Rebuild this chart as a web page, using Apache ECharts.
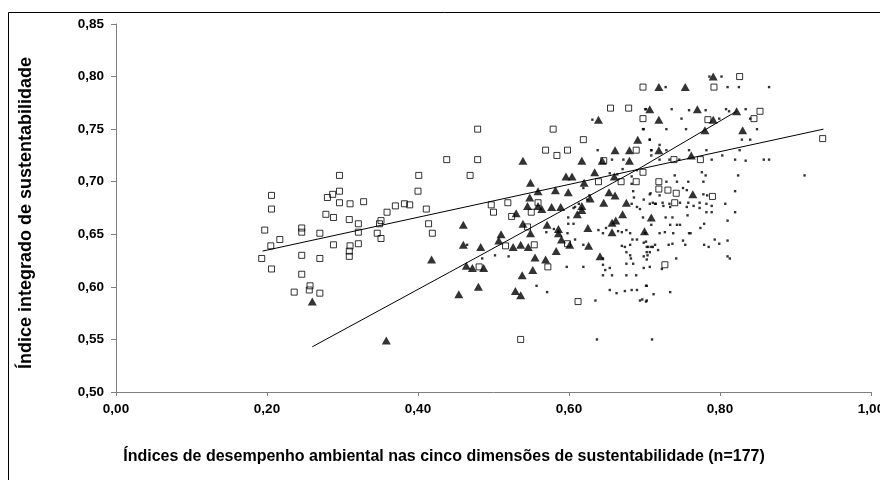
<!DOCTYPE html>
<html>
<head>
<meta charset="utf-8">
<script src="https://cdn.jsdelivr.net/npm/echarts@6/dist/echarts.min.js"></script>
<style>html,body{margin:0;padding:0;background:#fff}#c{width:880px;height:480px}</style>
</head>
<body>
<div id="c"></div>
<script>
const xTicks = [0, 0.2, 0.4, 0.6, 0.8, 1.0];
const yTicks = [0.50, 0.55, 0.60, 0.65, 0.70, 0.75, 0.80, 0.85];
const xTitle = 'Índices de desempenho ambiental nas cinco dimensões de sustentabilidade (n=177)';
const yTitle = 'Índice integrado de sustentabilidade';

const squares = [
[0.296,0.706],[0.206,0.687],[0.287,0.688],[0.280,0.685],[0.296,0.691],[0.206,0.674],[0.296,0.680],[0.310,0.679],[0.328,0.681],[0.278,0.669],
[0.288,0.666],[0.309,0.664],[0.321,0.660],[0.351,0.663],[0.349,0.660],[0.359,0.671],[0.370,0.677],[0.382,0.679],[0.389,0.678],[0.401,0.706],
[0.400,0.691],[0.411,0.674],[0.414,0.660],[0.419,0.651],[0.197,0.654],[0.246,0.656],[0.246,0.652],[0.217,0.645],[0.205,0.639],[0.270,0.651],
[0.321,0.652],[0.346,0.651],[0.351,0.646],[0.288,0.640],[0.310,0.639],[0.309,0.634],[0.309,0.629],[0.321,0.641],[0.193,0.627],[0.246,0.630],
[0.270,0.627],[0.206,0.617],[0.246,0.612],[0.257,0.601],[0.256,0.597],[0.236,0.595],[0.270,0.594],
[0.698,0.790],[0.655,0.770],[0.679,0.770],[0.698,0.760],[0.479,0.750],[0.579,0.750],[0.619,0.740],[0.438,0.721],[0.479,0.721],[0.569,0.730],
[0.584,0.725],[0.598,0.730],[0.689,0.730],[0.646,0.720],[0.469,0.706],[0.639,0.700],[0.669,0.700],[0.689,0.700],[0.698,0.709],[0.719,0.700],
[0.719,0.693],[0.497,0.678],[0.519,0.680],[0.500,0.671],[0.524,0.667],[0.550,0.671],[0.559,0.680],[0.545,0.657],[0.598,0.641],[0.516,0.639],
[0.554,0.640],[0.481,0.619],[0.572,0.619],[0.612,0.586],[0.536,0.550],
[0.826,0.800],[0.792,0.790],[0.784,0.759],[0.853,0.767],[0.845,0.760],[0.936,0.741],[0.739,0.721],[0.774,0.721],[0.731,0.692],[0.742,0.689],
[0.790,0.686],[0.740,0.680],[0.727,0.621]
];

const triangles = [
[0.260,0.586],[0.358,0.549],[0.418,0.626],
[0.719,0.790],[0.707,0.769],[0.719,0.759],[0.639,0.759],[0.691,0.740],[0.719,0.730],[0.661,0.730],[0.680,0.730],[0.680,0.720],[0.617,0.720],
[0.539,0.720],[0.644,0.720],[0.596,0.705],[0.604,0.705],[0.634,0.709],[0.660,0.705],[0.549,0.699],[0.620,0.699],[0.582,0.692],[0.559,0.691],
[0.599,0.690],[0.548,0.685],[0.545,0.677],[0.559,0.677],[0.564,0.674],[0.577,0.676],[0.589,0.676],[0.617,0.677],[0.617,0.673],[0.611,0.669],
[0.628,0.684],[0.646,0.680],[0.653,0.690],[0.661,0.687],[0.676,0.680],[0.671,0.669],[0.657,0.661],[0.662,0.663],[0.657,0.652],[0.625,0.656],
[0.571,0.659],[0.586,0.655],[0.586,0.651],[0.590,0.645],[0.539,0.660],[0.530,0.670],[0.549,0.651],[0.510,0.650],[0.507,0.644],[0.460,0.659],
[0.460,0.640],[0.483,0.638],[0.526,0.638],[0.536,0.640],[0.546,0.638],[0.601,0.640],[0.626,0.639],[0.641,0.629],[0.583,0.634],[0.569,0.626],
[0.555,0.628],[0.464,0.620],[0.472,0.618],[0.487,0.618],[0.552,0.616],[0.538,0.611],[0.480,0.600],[0.454,0.593],[0.529,0.596],[0.536,0.592],
[0.709,0.666],[0.700,0.653],
[0.791,0.800],[0.754,0.790],[0.770,0.769],[0.822,0.767],[0.791,0.759],[0.780,0.749],[0.830,0.749],[0.762,0.725],[0.764,0.688]
];

const dots = [
[0.631,0.759],[0.701,0.769],[0.699,0.750],[0.707,0.740],[0.638,0.730],[0.672,0.721],[0.709,0.730],[0.720,0.735],[0.657,0.721],[0.671,0.712],
[0.690,0.711],[0.654,0.708],[0.664,0.707],[0.683,0.705],[0.683,0.698],[0.685,0.691],[0.686,0.685],[0.683,0.679],[0.690,0.676],[0.694,0.674],
[0.699,0.683],[0.707,0.688],[0.707,0.679],[0.714,0.679],[0.619,0.694],[0.627,0.687],[0.624,0.683],[0.613,0.679],[0.606,0.675],[0.599,0.660],
[0.606,0.660],[0.598,0.651],[0.608,0.645],[0.619,0.640],[0.639,0.654],[0.645,0.651],[0.649,0.656],[0.665,0.653],[0.670,0.652],[0.676,0.654],
[0.681,0.651],[0.684,0.645],[0.690,0.645],[0.699,0.642],[0.703,0.638],[0.711,0.638],[0.681,0.640],[0.670,0.639],[0.674,0.638],[0.676,0.633],
[0.681,0.630],[0.682,0.627],[0.685,0.622],[0.676,0.622],[0.699,0.629],[0.707,0.633],[0.718,0.635],[0.645,0.627],[0.645,0.621],[0.654,0.618],
[0.648,0.616],[0.645,0.611],[0.657,0.611],[0.597,0.619],[0.619,0.619],[0.676,0.611],[0.689,0.611],[0.699,0.618],[0.703,0.626],[0.707,0.619],
[0.690,0.597],[0.683,0.597],[0.674,0.596],[0.663,0.594],[0.654,0.597],[0.703,0.601],[0.697,0.588],[0.703,0.587],[0.557,0.601],[0.571,0.595],
[0.635,0.587],[0.637,0.550],[0.710,0.550],[0.520,0.629],[0.502,0.630],[0.485,0.627],[0.465,0.640],[0.570,0.652],[0.580,0.655],[0.599,0.666],
[0.608,0.676],
[0.786,0.800],[0.802,0.800],[0.728,0.790],[0.810,0.790],[0.825,0.790],[0.865,0.790],[0.702,0.769],[0.736,0.769],[0.759,0.768],[0.808,0.769],
[0.812,0.767],[0.834,0.769],[0.781,0.768],[0.749,0.760],[0.799,0.760],[0.840,0.760],[0.698,0.750],[0.729,0.750],[0.755,0.750],[0.849,0.750],
[0.707,0.740],[0.829,0.740],[0.840,0.740],[0.709,0.730],[0.729,0.730],[0.759,0.730],[0.782,0.730],[0.826,0.730],[0.709,0.725],[0.803,0.725],
[0.720,0.721],[0.733,0.721],[0.746,0.721],[0.789,0.721],[0.820,0.721],[0.834,0.720],[0.858,0.721],[0.865,0.721],[0.776,0.709],[0.781,0.706],
[0.824,0.706],[0.912,0.706],[0.740,0.706],[0.729,0.700],[0.743,0.700],[0.758,0.700],[0.778,0.700],[0.820,0.691],[0.708,0.689],[0.720,0.687],
[0.751,0.694],[0.756,0.692],[0.778,0.688],[0.783,0.687],[0.711,0.680],[0.715,0.679],[0.724,0.680],[0.733,0.679],[0.747,0.680],[0.758,0.680],
[0.765,0.677],[0.773,0.680],[0.782,0.679],[0.789,0.677],[0.807,0.679],[0.725,0.677],[0.734,0.676],[0.756,0.676],[0.773,0.675],[0.698,0.666],
[0.728,0.666],[0.737,0.666],[0.757,0.668],[0.782,0.671],[0.789,0.671],[0.820,0.671],[0.810,0.663],[0.709,0.659],[0.734,0.659],[0.743,0.659],
[0.747,0.659],[0.779,0.660],[0.774,0.656],[0.701,0.651],[0.720,0.651],[0.727,0.652],[0.738,0.651],[0.759,0.651],[0.761,0.651],[0.793,0.645],
[0.810,0.644],[0.702,0.643],[0.714,0.640],[0.732,0.640],[0.737,0.641],[0.751,0.644],[0.754,0.640],[0.779,0.640],[0.785,0.638],[0.799,0.641],
[0.705,0.638],[0.709,0.638],[0.703,0.633],[0.704,0.630],[0.742,0.627],[0.810,0.629],[0.813,0.627],[0.723,0.617],[0.702,0.601],[0.712,0.593],
[0.734,0.595],[0.694,0.587],[0.702,0.586]
];

const trendSquares = [[0.194,0.634],[0.937,0.750]];
const trendTriangles = [[0.260,0.543],[0.442,0.614],[0.694,0.713],[0.822,0.767]];

const fmt = v => v.toFixed(2).replace('.', ',');
const FONT = '"Liberation Sans", Arial, sans-serif';
const axisGray = '#7f7f7f';

const chart = echarts.init(document.getElementById('c'), null, {renderer: 'canvas'});
chart.setOption({
  animation: false,
  backgroundColor: '#fff',
  grid: {left: 116, right: 9, top: 24, bottom: 88, containLabel: false, outerBoundsMode: 'none'},
  graphic: [{
    type: 'rect', silent: true, z: -1,
    shape: {x: 8.5, y: 12.5, width: 1000, height: 1000},
    style: {fill: 'none', stroke: '#000', lineWidth: 1}
  }],
  xAxis: {
    type: 'value', min: xTicks[0], max: xTicks[xTicks.length - 1], interval: 0.2,
    name: xTitle, nameLocation: 'middle', nameGap: 57,
    nameTextStyle: {fontFamily: FONT, fontWeight: 'bold', fontSize: 16, color: '#000', padding: [0, 99, 0, 0]},
    axisLine: {lineStyle: {color: axisGray, width: 1}},
    axisTick: {show: true, length: 4, inside: false, lineStyle: {color: axisGray}},
    axisLabel: {formatter: fmt, fontFamily: FONT, fontWeight: 'bold', fontSize: 13.5, color: '#000', margin: 10, showMaxLabel: true},
    splitLine: {show: false}
  },
  yAxis: {
    type: 'value', min: yTicks[0], max: yTicks[yTicks.length - 1], interval: 0.05,
    name: yTitle, nameLocation: 'middle', nameRotate: 90, nameGap: 81,
    nameTextStyle: {fontFamily: FONT, fontWeight: 'bold', fontSize: 18, color: '#000', padding: [0, 10, 0, 0]},
    axisLine: {show: true, lineStyle: {color: axisGray, width: 1}},
    axisTick: {show: true, length: 5, inside: false, lineStyle: {color: axisGray}},
    axisLabel: {formatter: fmt, fontFamily: FONT, fontWeight: 'bold', fontSize: 13.5, color: '#000', margin: 12},
    splitLine: {show: false}
  },
  series: [
    {type: 'scatter', name: 'dots', data: dots, symbol: 'rect', symbolSize: 2.4,
     itemStyle: {color: '#000'}, z: 2, silent: true},
    {type: 'scatter', name: 'triangles', data: triangles, symbol: 'triangle', symbolSize: [9, 8],
     itemStyle: {color: '#000'}, z: 3, silent: true},
    {type: 'scatter', name: 'squares', data: squares, symbol: 'rect', symbolSize: 6,
     itemStyle: {color: 'rgba(255,255,255,0)', borderColor: '#000', borderWidth: 1}, z: 4, silent: true},
    {type: 'line', name: 'trend1', data: trendSquares, symbol: 'none', lineStyle: {color: '#000', width: 1}, z: 5, silent: true},
    {type: 'line', name: 'trend2', data: trendTriangles, symbol: 'none', lineStyle: {color: '#000', width: 1}, z: 5, silent: true}
  ]
});
</script>
</body>
</html>
